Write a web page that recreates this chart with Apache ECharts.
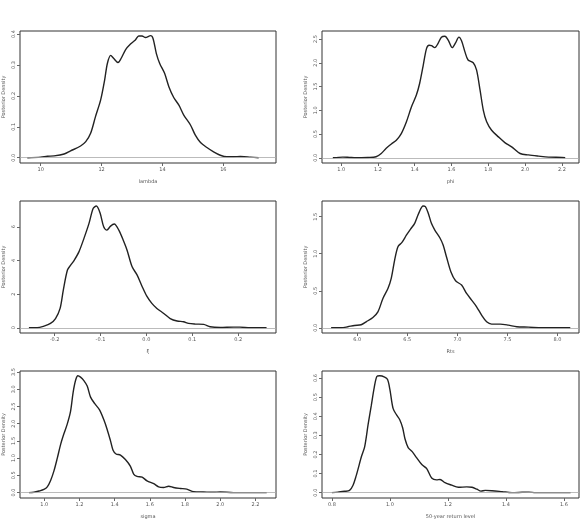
<!DOCTYPE html>
<html>
<head>
<meta charset="utf-8">
<script src="https://cdn.jsdelivr.net/npm/echarts@6/dist/echarts.min.js"></script>
<style>
  html, body { margin: 0; padding: 0; background: #fff; }
  #chart { width: 582px; height: 520px; }
</style>
</head>
<body>
<div id="chart"></div>
<script>
// posterior density traces as [value, density]
var lambdaDens = [[9.56,0],[10.0,0.002],[10.22,0.005],[10.44,0.006],[10.77,0.012],[10.98,0.022],[11.31,0.038],[11.48,0.052],[11.64,0.079],[11.80,0.133],[11.97,0.187],[12.1,0.251],[12.19,0.305],[12.3,0.331],[12.4,0.321],[12.54,0.308],[12.64,0.321],[12.79,0.350],[12.95,0.368],[13.11,0.381],[13.22,0.394],[13.33,0.394],[13.44,0.389],[13.61,0.395],[13.69,0.386],[13.80,0.337],[13.91,0.305],[14.07,0.273],[14.21,0.230],[14.37,0.195],[14.54,0.170],[14.70,0.138],[14.92,0.106],[15.08,0.073],[15.25,0.049],[15.46,0.033],[15.68,0.019],[15.90,0.008],[16.12,0.003],[16.34,0.003],[16.56,0.004],[16.89,0.002],[17.16,0]];
var phiDens = [[0.955,0],[1.009,0.014],[1.045,0.007],[1.08,0],[1.145,0.007],[1.19,0.021],[1.218,0.09],[1.245,0.20],[1.273,0.29],[1.30,0.37],[1.327,0.51],[1.355,0.76],[1.382,1.07],[1.409,1.32],[1.427,1.57],[1.445,1.92],[1.464,2.30],[1.478,2.37],[1.491,2.36],[1.509,2.32],[1.527,2.41],[1.545,2.54],[1.564,2.56],[1.582,2.48],[1.604,2.32],[1.622,2.42],[1.64,2.54],[1.655,2.46],[1.673,2.23],[1.69,2.06],[1.718,2.00],[1.736,1.85],[1.755,1.43],[1.773,1.00],[1.791,0.76],[1.818,0.58],[1.855,0.44],[1.89,0.32],[1.927,0.23],[1.973,0.09],[2.018,0.06],[2.073,0.035],[2.127,0.014],[2.2,0.007],[2.218,0]];
var xiDens = [[-0.256,0],[-0.238,0],[-0.223,0.10],[-0.209,0.26],[-0.198,0.55],[-0.188,1.15],[-0.181,2.24],[-0.172,3.43],[-0.165,3.72],[-0.158,3.98],[-0.147,4.51],[-0.136,5.31],[-0.125,6.20],[-0.116,7.09],[-0.109,7.23],[-0.101,6.83],[-0.093,6.0],[-0.086,5.80],[-0.078,6.04],[-0.07,6.16],[-0.06,5.80],[-0.049,5.11],[-0.042,4.61],[-0.031,3.62],[-0.020,3.13],[-0.009,2.44],[0.001,1.88],[0.012,1.45],[0.023,1.15],[0.038,0.85],[0.052,0.55],[0.067,0.40],[0.081,0.36],[0.092,0.26],[0.107,0.22],[0.125,0.20],[0.139,0.06],[0.161,0.02],[0.19,0.04],[0.204,0.04],[0.226,0],[0.262,0]];
var rtsDens = [[5.74,0],[5.84,0],[5.907,0.014],[5.973,0.032],[6.04,0.041],[6.09,0.081],[6.157,0.14],[6.207,0.216],[6.257,0.396],[6.307,0.53],[6.34,0.667],[6.374,0.914],[6.407,1.095],[6.447,1.153],[6.491,1.25],[6.531,1.33],[6.574,1.41],[6.614,1.545],[6.658,1.644],[6.681,1.635],[6.708,1.554],[6.741,1.41],[6.775,1.32],[6.825,1.216],[6.858,1.117],[6.891,0.96],[6.935,0.757],[6.982,0.635],[7.042,0.577],[7.092,0.464],[7.142,0.374],[7.192,0.284],[7.242,0.171],[7.292,0.081],[7.342,0.05],[7.426,0.05],[7.509,0.036],[7.593,0.014],[7.71,0.009],[7.843,0],[8.01,0],[8.127,0]];
var sigmaDens = [[0.913,0],[0.941,0.01],[0.97,0.046],[0.998,0.093],[1.017,0.167],[1.036,0.353],[1.055,0.63],[1.074,1.00],[1.093,1.40],[1.111,1.70],[1.130,1.98],[1.149,2.35],[1.164,2.91],[1.178,3.26],[1.191,3.39],[1.206,3.35],[1.225,3.25],[1.244,3.09],[1.263,2.77],[1.287,2.58],[1.314,2.40],[1.338,2.12],[1.357,1.84],[1.376,1.51],[1.391,1.23],[1.408,1.12],[1.433,1.09],[1.461,0.96],[1.489,0.77],[1.508,0.54],[1.527,0.47],[1.556,0.45],[1.584,0.34],[1.622,0.26],[1.65,0.167],[1.678,0.149],[1.707,0.186],[1.735,0.149],[1.773,0.121],[1.81,0.10],[1.849,0.028],[1.905,0.019],[1.962,0.009],[2.0,0.019],[2.075,0],[2.17,0],[2.264,0]];
var returnDens = [[0.8,0],[0.821,0.003],[0.844,0.007],[0.861,0.012],[0.873,0.039],[0.884,0.089],[0.890,0.122],[0.902,0.189],[0.913,0.24],[0.925,0.357],[0.936,0.457],[0.946,0.55],[0.955,0.608],[0.965,0.612],[0.982,0.605],[0.992,0.592],[1.0,0.541],[1.011,0.441],[1.023,0.407],[1.034,0.382],[1.044,0.34],[1.052,0.282],[1.063,0.236],[1.077,0.215],[1.092,0.183],[1.11,0.147],[1.127,0.126],[1.144,0.077],[1.161,0.067],[1.173,0.069],[1.19,0.052],[1.213,0.039],[1.236,0.028],[1.265,0.030],[1.283,0.028],[1.3,0.018],[1.314,0.008],[1.329,0.012],[1.352,0.010],[1.387,0.005],[1.421,0],[1.456,0.002],[1.479,0.003],[1.502,0],[1.56,0],[1.623,0]];

// tick labels per panel
var lambdaTicks = [10, 12, 14, 16];
var phiTicks = [1.0, 1.2, 1.4, 1.6, 1.8, 2.0, 2.2];
var xiTicks = [-0.2, -0.1, 0.0, 0.1, 0.2];
var rtsTicks = [6.0, 6.5, 7.0, 7.5, 8.0];
var sigmaTicks = [1.0, 1.2, 1.4, 1.6, 1.8, 2.0, 2.2];
var returnTicks = [0.8, 1.0, 1.2, 1.4, 1.6];
var lambdaYTicks = [0.0, 0.1, 0.2, 0.3, 0.4];
var phiYTicks = [0.0, 0.5, 1.0, 1.5, 2.0, 2.5];
var xiYTicks = [0, 2, 4, 6];
var rtsYTicks = [0.0, 0.5, 1.0, 1.5];
var sigmaYTicks = [0.0, 0.5, 1.0, 1.5, 2.0, 2.5, 3.0, 3.5];
var returnYTicks = [0.0, 0.1, 0.2, 0.3, 0.4, 0.5, 0.6];

var panels = [
    {data: lambdaDens, name: 'lambda', xt: lambdaTicks, xd: 0, yt: lambdaYTicks, yd: 1,
        xr: [9.32, 17.73], yr: [-0.017, 0.41], left: 19, top: 31},
    {data: phiDens, name: 'phi', xt: phiTicks, xd: 1, yt: phiYTicks, yd: 1,
        xr: [0.896, 2.293], yr: [-0.11, 2.67], left: 322, top: 31},
    {data: xiDens, name: 'ξ', xt: xiTicks, xd: 1, yt: xiYTicks, yd: 0,
        xr: [-0.2754, 0.2826], yr: [-0.31, 7.53], left: 19, top: 201},
    {data: rtsDens, name: 'Rts', xt: rtsTicks, xd: 1, yt: rtsYTicks, yd: 1,
        xr: [5.649, 8.214], yr: [-0.07, 1.712], left: 322, top: 201},
    {data: sigmaDens, name: 'sigma', xt: sigmaTicks, xd: 1, yt: sigmaYTicks, yd: 1,
        xr: [0.862, 2.317], yr: [-0.156, 3.528], left: 19, top: 371},
    {data: returnDens, name: '50-year return level', xt: returnTicks, xd: 1, yt: returnYTicks, yd: 1,
        xr: [0.766, 1.652], yr: [-0.028, 0.637], left: 322, top: 371}
];

var textColor = '#555';
var grid = [], xAxis = [], yAxis = [], series = [];

panels.forEach(function (p, i) {
    grid.push({
        left: p.left, top: p.top, width: 257, height: 132,
        show: true, borderColor: '#333', borderWidth: 1, backgroundColor: 'transparent'
    });
    xAxis.push({
        type: 'value', gridIndex: i, min: p.xr[0], max: p.xr[1], position: 'bottom',
        name: p.name, nameLocation: 'middle', nameGap: 16,
        nameTextStyle: {fontSize: 5, color: textColor, fontFamily: 'DejaVu Sans'},
        axisLine: {show: false, onZero: false},
        axisTick: {show: true, length: 3, customValues: p.xt, lineStyle: {color: '#666'}},
        axisLabel: {
            customValues: p.xt, fontSize: 5, margin: 4, color: textColor, fontFamily: 'DejaVu Sans',
            formatter: (function (d) { return function (v) { return v.toFixed(d); }; })(p.xd)
        },
        splitLine: {show: false}
    });
    yAxis.push({
        type: 'value', gridIndex: i, min: p.yr[0], max: p.yr[1], position: 'left',
        name: 'Posterior Density', nameLocation: 'middle', nameGap: 14, nameRotate: 90,
        nameTextStyle: {fontSize: 5, color: textColor, fontFamily: 'DejaVu Sans'},
        axisLine: {show: false, onZero: false},
        axisTick: {show: true, length: 3, customValues: p.yt, lineStyle: {color: '#666'}},
        axisLabel: {
            customValues: p.yt, fontSize: 5, margin: 4, rotate: 90, color: textColor, fontFamily: 'DejaVu Sans',
            formatter: (function (d) { return function (v) { return v.toFixed(d); }; })(p.yd)
        },
        splitLine: {show: false}
    });
    series.push({
        type: 'line', xAxisIndex: i, yAxisIndex: i, data: p.data,
        smooth: 0.3, showSymbol: false, silent: true,
        lineStyle: {color: '#222', width: 1.4},
        markLine: {
            silent: true, symbol: 'none', label: {show: false},
            lineStyle: {color: '#aaa', width: 0.8, type: 'solid'},
            data: [{yAxis: 0}]
        }
    });
});

var chart = echarts.init(document.getElementById('chart'), null, {renderer: 'canvas'});
chart.setOption({
    animation: false,
    backgroundColor: '#fff',
    grid: grid,
    xAxis: xAxis,
    yAxis: yAxis,
    series: series
});
</script>
</body>
</html>
